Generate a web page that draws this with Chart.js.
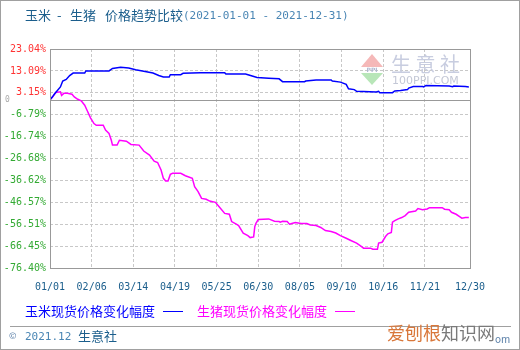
<!DOCTYPE html>
<html>
<head>
<meta charset="utf-8">
<script src="https://cdn.jsdelivr.net/npm/chart.js@4.4.0/dist/chart.umd.min.js"></script>
<style>
  body { margin: 0; background: #fff; }
  #page { position: relative; width: 520px; height: 350px; overflow: hidden; font-family: "Noto Sans CJK SC", sans-serif; }
  #frame { position: absolute; left: 0; top: 0; width: 520px; height: 350px; box-sizing: border-box; border: 1px solid #a0a0a0; }
  canvas { position: absolute; left: 0; top: 0; }
  .t { position: absolute; white-space: pre; line-height: 1; }
  .cn { font-size: 13px; }
  .mono { font-family: "DejaVu Sans Mono", monospace; font-size: 11px; }
  .key { position: absolute; height: 0; border-top: 1px solid; width: 20px; }
</style>
</head>
<body>
<div id="page">
  <canvas id="myChart" width="520" height="350"></canvas>

  <div class="t cn" style="left:25px;top:8px;color:#1b5e8c">玉米</div>
  <div class="t cn" style="left:57px;top:8px;color:#1b5e8c">-</div>
  <div class="t cn" style="left:70px;top:8px;color:#1b5e8c">生猪</div>
  <div class="t cn" style="left:105px;top:8px;color:#1b5e8c">价格趋势比较</div>
  <div class="t mono" style="left:183px;top:10px;color:#4a86b4">(2021-01-01 - 2021-12-31)</div>

  <div class="t cn" style="left:25px;top:304px;color:#0000ff">玉米现货价格变化幅度</div>
  <div class="key" style="left:163px;top:311px;border-color:#0000ff"></div>
  <div class="t cn" style="left:197px;top:304px;color:#ff00ff">生猪现货价格变化幅度</div>
  <div class="key" style="left:335px;top:311px;border-color:#ff00ff"></div>

  <div style="position:absolute;left:10px;top:326px;width:501px;border-top:1px solid #a0a0a0"></div>
  <div class="t" style="left:9px;top:331px;font-size:9px;color:#5a7fa8">©</div>
  <div class="t mono" style="left:25px;top:331px;color:#4a86b4">2021.12</div>
  <div class="t cn" style="left:78px;top:329px;color:#1b5e8c">生意社</div>

  <div class="t" style="left:387px;top:323px;font-size:18px;color:#d9773a">爱刨根<span style="color:#7a7a7a">知识网</span></div>
  <div class="t" style="left:495px;top:334px;font-size:10px;color:#5a7fa8">om</div>

  <div id="frame"></div>
</div>
<script>
// day of year (2021-01-01 = 0) and % change
const cornDays = [0,2,4,9,11,14,17,20,30,31,51,54,61,68,74,81,89,94,98,103,104,113,115,130,151,152,169,174,179,189,198,201,220,221,230,243,244,251,256,258,263,265,282,284,285,296,298,303,309,310,314,322,323,325,345,348,349,359,362];
const cornVals = [0,1.2,2.7,5.8,8.5,9.2,11.0,12.1,12.1,13.1,13.1,14.2,14.8,14.4,13.6,12.9,12.1,11.0,10.3,10.3,11.4,11.4,12.0,12.3,12.3,11.7,11.7,10.9,10.1,9.8,9.5,8.2,8.2,8.5,9.0,9.0,8.5,8.0,7.0,5.0,4.6,3.8,3.5,3.8,3.2,3.2,4.0,4.2,4.6,5.3,6.0,6.0,5.8,6.5,6.2,5.9,6.2,6.0,5.8];

const hogDays = [0,2,5,9,10,12,15,19,21,24,27,30,32,35,38,40,46,48,51,53,54,58,60,66,70,77,81,86,90,93,96,98,100,102,104,106,113,117,123,125,128,131,135,138,143,146,151,155,157,161,163,167,171,173,176,177,178,180,189,194,198,199,201,205,207,209,212,217,222,225,230,234,238,243,247,251,256,260,265,269,271,277,279,283,284,287,290,292,295,296,298,301,304,307,310,316,318,322,326,328,339,341,345,347,351,354,356,359,362];
const hogVals = [0,1.1,3.3,3.6,2.0,2.9,2.9,2.5,1.3,0.2,-0.5,-2.5,-4.8,-8.2,-10.8,-11.6,-11.6,-13.8,-15.3,-18.4,-20.6,-20.6,-18.4,-18.8,-20.3,-20.6,-23.3,-25.1,-27.9,-28.5,-31.9,-35.7,-36.9,-36.9,-33.9,-33.4,-33.4,-34.5,-35.7,-39.5,-41.7,-44.8,-45.2,-46.0,-46.6,-48.5,-51.6,-52.0,-55.3,-56.5,-57.1,-60.6,-61.7,-62.6,-62.3,-57.6,-56.1,-54.4,-54.1,-55.2,-55.3,-55.6,-55.2,-55.3,-56.5,-56.2,-55.8,-56.2,-56.2,-56.9,-57.1,-58.0,-59.4,-59.8,-60.5,-61.7,-62.9,-63.9,-65.1,-66.6,-67.4,-67.4,-67.9,-67.9,-65.1,-64.7,-62.1,-60.9,-60.3,-55.6,-54.9,-54.1,-53.5,-52.6,-51.1,-50.5,-49.4,-49.9,-49.6,-49.0,-49.0,-49.7,-49.9,-51.1,-52.0,-53.1,-53.8,-53.5,-53.5];

const xTickDays = [0,36,72,108,144,180,216,252,288,324,363];
const xTickLabels = ['01/01','02/06','03/14','04/19','05/25','06/30','08/05','09/10','10/16','11/21','12/30'];
const yTicks = [23.04,13.09,3.15,-6.79,-16.74,-26.68,-36.62,-46.57,-56.51,-66.45,-76.40];

const toPoints = (xs, ys) => xs.map((d, i) => ({x: d, y: ys[i]}));

// plot frame, zero line, site logo
const decor = {
  id: 'decor',
  beforeDatasetsDraw(chart) {
    const ctx = chart.ctx, a = chart.chartArea, y = chart.scales.y;
    ctx.save();
    // logo
    ctx.fillStyle = '#f5b8b8';
    ctx.beginPath(); ctx.moveTo(372, 54); ctx.lineTo(383, 67); ctx.lineTo(361, 67); ctx.closePath(); ctx.fill();
    ctx.fillStyle = '#b8e6b8';
    ctx.beginPath(); ctx.moveTo(361, 73); ctx.lineTo(383, 73); ctx.lineTo(372, 85); ctx.closePath(); ctx.fill();
    ctx.fillStyle = '#b0b8d0';
    ctx.font = 'bold 6px "DejaVu Sans"';
    ctx.textAlign = 'center'; ctx.textBaseline = 'middle';
    ctx.fillText('PPI', 372, 70);
    ctx.fillStyle = '#c8cde0';
    ctx.font = '20px "Noto Sans CJK SC"';
    ctx.textAlign = 'left';
    ctx.fillText('生 意 社', 391, 64);
    ctx.fillStyle = '#c4c8d6';
    ctx.font = '11px "DejaVu Sans"';
    ctx.fillText('100PPI.COM', 392, 81);
    // zero line
    const y0 = Math.round(y.getPixelForValue(0)) + 0.5;
    ctx.strokeStyle = '#999';
    ctx.lineWidth = 1;
    ctx.beginPath(); ctx.moveTo(a.left, y0); ctx.lineTo(a.right, y0); ctx.stroke();
    ctx.fillStyle = '#aaa';
    ctx.font = '8px "DejaVu Sans Mono"';
    ctx.fillText('0', 5, y0 - 1);
    ctx.restore();
  },
  afterDraw(chart) {
    const ctx = chart.ctx, a = chart.chartArea;
    ctx.save();
    ctx.strokeStyle = '#999';
    ctx.lineWidth = 1;
    ctx.strokeRect(Math.round(a.left) + 0.5, Math.round(a.top) + 0.5, Math.round(a.right - a.left), Math.round(a.bottom - a.top));
    ctx.restore();
  }
};

new Chart(document.getElementById('myChart'), {
  type: 'line',
  data: {
    datasets: [{
      label: '玉米现货价格变化幅度',
      data: toPoints(cornDays, cornVals),
      borderColor: '#0000ff',
      borderWidth: 1.5,
      pointRadius: 0,
      tension: 0
    }, {
      label: '生猪现货价格变化幅度',
      data: toPoints(hogDays, hogVals),
      borderColor: '#ff00ff',
      borderWidth: 1.5,
      pointRadius: 0,
      tension: 0
    }]
  },
  options: {
    responsive: false,
    animation: false,
    devicePixelRatio: 1,
    layout: { padding: { left: 0, top: 49, right: 50, bottom: 52 } },
    plugins: { legend: { display: false }, tooltip: { enabled: false } },
    scales: {
      x: {
        type: 'linear',
        min: 0,
        max: 363,
        afterBuildTicks: s => { s.ticks = xTickDays.map(v => ({value: v})); },
        afterFit: s => { s.height = 30; },
        grid: { color: '#c8c8c8', drawTicks: false, borderDash: [3, 2] },
        border: { display: false, dash: [3, 2] },
        ticks: {
          padding: 13,
          maxRotation: 0,
          autoSkip: false,
          color: '#1b5e8c',
          font: { family: '"DejaVu Sans Mono", monospace', size: 10 },
          callback: v => xTickLabels[xTickDays.indexOf(v)]
        }
      },
      y: {
        min: -76.40,
        max: 23.04,
        afterBuildTicks: s => { s.ticks = yTicks.map(v => ({value: v})); },
        afterFit: s => { s.width = 50; },
        grid: { color: '#c8c8c8', drawTicks: false, borderDash: [3, 2] },
        border: { display: false, dash: [3, 2] },
        ticks: {
          padding: 4,
          autoSkip: false,
          color: c => c.tick.value > 0 ? '#ff3333' : '#33aa33',
          font: { family: '"DejaVu Sans Mono", monospace', size: 10 },
          callback: v => v.toFixed(2) + '%'
        }
      }
    }
  },
  plugins: [decor]
});
</script>
</body>
</html>
